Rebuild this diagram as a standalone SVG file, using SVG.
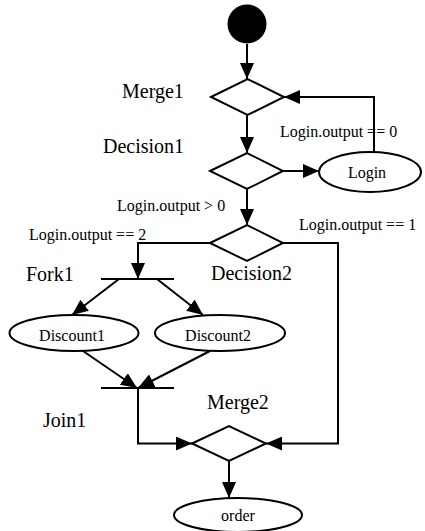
<svg xmlns="http://www.w3.org/2000/svg" width="425" height="531" viewBox="0 0 425 531">
<style>
.shape{fill:#fff;stroke:#000;stroke-width:2}
.bar{stroke:#000;stroke-width:2}
.conn{fill:none;stroke:#000;stroke-width:2}
.lbl{font-family:"Liberation Serif","Times New Roman",serif;font-size:20px;fill:#000}
.small{font-family:"Liberation Serif","Times New Roman",serif;font-size:16px;fill:#000}
.mid{text-anchor:middle}
</style>
<defs>
<marker id="arr" viewBox="0 0 16 14" refX="16" refY="7" markerWidth="16" markerHeight="14" markerUnits="userSpaceOnUse" orient="auto">
<path d="M0,0 L16,7 L0,14 z" fill="#000"/>
</marker>
</defs>
<rect width="425" height="531" fill="#fff"/>
<g id="start"><circle cx="247" cy="24" r="19.5" fill="#000"/></g>
<g id="merge1"><polygon class="shape" points="211,97 247.5,79 284,97 247.5,115"/><text class="lbl" x="122" y="98">Merge1</text></g>
<g id="decision1"><polygon class="shape" points="210,171 247,153 283,171 247,189"/><text class="lbl" x="103" y="153">Decision1</text></g>
<g id="login"><ellipse class="shape" cx="370" cy="172" rx="51" ry="20"/><text class="small mid" x="367" y="178">Login</text></g>
<g id="decision2"><polygon class="shape" points="210,243 247,225 283,243 247,261"/><text class="lbl" x="211" y="280">Decision2</text></g>
<g id="fork1"><line class="bar" x1="101" y1="279" x2="174" y2="279"/><text class="lbl" x="26" y="281">Fork1</text></g>
<g id="discount1"><ellipse class="shape" cx="74" cy="333" rx="64.5" ry="18"/><text class="small mid" x="72" y="341">Discount1</text></g>
<g id="discount2"><ellipse class="shape" cx="220" cy="333" rx="65" ry="18"/><text class="small mid" x="218" y="341">Discount2</text></g>
<g id="join1"><line class="bar" x1="101" y1="388" x2="174" y2="388"/><text class="lbl" x="43" y="427">Join1</text></g>
<g id="merge2"><polygon class="shape" points="192,443.5 229,426 266,443.5 229,461"/><text class="lbl" x="207" y="409">Merge2</text></g>
<g id="order"><ellipse class="shape" cx="238" cy="515" rx="64" ry="17"/><text class="small mid" x="238" y="521">order</text></g>
<g id="connectors">
<path class="conn" d="M247,44 V79" marker-end="url(#arr)"/>
<path class="conn" d="M247,115 V153" marker-end="url(#arr)"/>
<path class="conn" d="M283,171 H319" marker-end="url(#arr)"/>
<path class="conn" d="M374,152 V97 H284" marker-end="url(#arr)"/>
<path class="conn" d="M247,189 V225" marker-end="url(#arr)"/>
<path class="conn" d="M210,243 H138 V279" marker-end="url(#arr)"/>
<path class="conn" d="M283,243 H338 V443.5 H266" marker-end="url(#arr)"/>
<path class="conn" d="M119,279 L72,315" marker-end="url(#arr)"/>
<path class="conn" d="M157,279 L203,315" marker-end="url(#arr)"/>
<path class="conn" d="M83,351 L137,388" marker-end="url(#arr)"/>
<path class="conn" d="M210,351 L138,388" marker-end="url(#arr)"/>
<path class="conn" d="M138,388 V443.5 H192" marker-end="url(#arr)"/>
<path class="conn" d="M229,461 V498" marker-end="url(#arr)"/>
<text class="small" x="280" y="137">Login.output == 0</text>
<text class="small" x="117" y="211">Login.output &gt; 0</text>
<text class="small" x="299" y="230">Login.output == 1</text>
<text class="small" x="29" y="240">Login.output == 2</text>
</g>
</svg>
